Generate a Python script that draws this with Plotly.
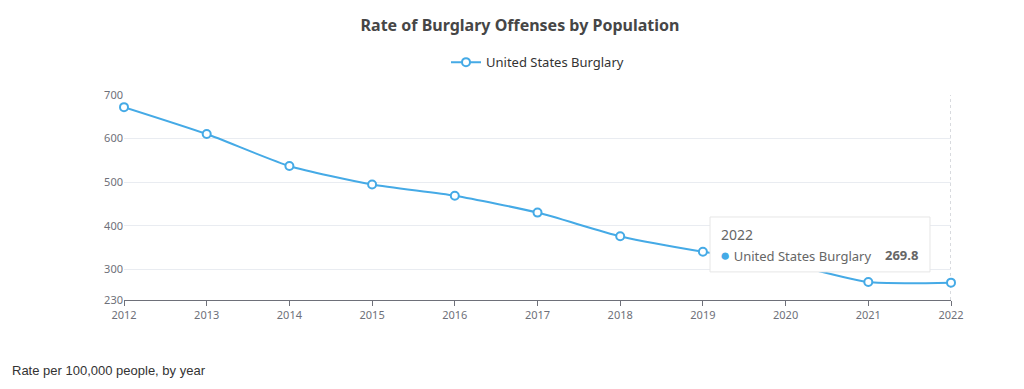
import plotly.graph_objects as go

years = [2012, 2013, 2014, 2015, 2016, 2017, 2018, 2019, 2020, 2021, 2022]
burglary = [672.2, 610.5, 537.2, 494.7, 468.9, 430.4, 376.0, 340.5, 314.2, 271.1, 269.8]
y_ticks = [230, 300, 400, 500, 600, 700]
series_name = "United States Burglary"
tip_year = "2022"
tip_value = "269.8"

LINE = "#45aae6"
AXIS = "#6E7079"

fig = go.Figure()
fig.add_trace(go.Scatter(
    x=years, y=burglary, name=series_name, mode="lines+markers",
    line=dict(color=LINE, width=2, shape="spline", smoothing=0.6),
    marker=dict(size=8, color="white", line=dict(color=LINE, width=2)),
    cliponaxis=False,
))

fig.update_layout(
    width=1024, height=389,
    margin=dict(l=116, r=81, t=87, b=97),
    paper_bgcolor="white", plot_bgcolor="white",
    font=dict(family="Noto Sans, Open Sans, sans-serif", color=AXIS),
    title=dict(text="<b>Rate of Burglary Offenses by Population</b>",
               x=0.5, xanchor="center", y=0.955, yanchor="middle",
               font=dict(size=16, color="#464646")),
    showlegend=True,
    legend=dict(orientation="h", x=0.5, xanchor="center", xref="paper",
                y=1.16, yanchor="middle", font=dict(size=13, color="#333333"),
                bgcolor="rgba(0,0,0,0)"),
    xaxis=dict(range=[2012, 2022], tickvals=years, ticktext=[str(y) for y in years],
               showgrid=False, zeroline=False, showline=True, linecolor=AXIS, linewidth=1,
               ticks="outside", ticklen=5, tickcolor=AXIS,
               tickfont=dict(size=11, color=AXIS)),
    yaxis=dict(range=[230, 700], tickvals=y_ticks, showgrid=True, gridcolor="#E9ECF1",
               zeroline=False, showline=False, ticks="",
               tickfont=dict(size=11, color=AXIS)),
)

# axis pointer dashed line at hovered category
fig.add_shape(type="line", xref="x", yref="paper", x0=years[-1], x1=years[-1], y0=0, y1=1,
              line=dict(color="#B0B4BC", width=1, dash="3px,3px"), layer="below")

# tooltip box
fig.add_shape(type="rect", xref="paper", yref="paper", x0=0.7086, x1=0.9746, y0=0.137, y1=0.405,
              fillcolor="white", line=dict(color="#E6E6E6", width=1))
fig.add_annotation(xref="paper", yref="paper", x=0.7195, y=0.32, text=tip_year,
                   showarrow=False, xanchor="left", yanchor="middle",
                   font=dict(size=14, color="#666666"))
fig.add_annotation(xref="paper", yref="paper", x=0.7185, y=0.22,
                   text="<span style='color:%s;font-size:17px'>●</span> %s" % (LINE, series_name),
                   showarrow=False, xanchor="left", yanchor="middle",
                   font=dict(size=13, color="#666666"))
fig.add_annotation(xref="paper", yref="paper", x=0.962, y=0.22, text="<b>%s</b>" % tip_value,
                   showarrow=False, xanchor="right", yanchor="middle",
                   font=dict(size=13, color="#666666"))

fig.add_annotation(xref="paper", yref="paper", x=-0.138, y=-0.345,
                   text="Rate per 100,000 people, by year", showarrow=False,
                   xanchor="left", yanchor="middle",
                   font=dict(size=13, color="#333333", family="Liberation Sans, Arial, sans-serif"))

fig.write_html("out.html")
